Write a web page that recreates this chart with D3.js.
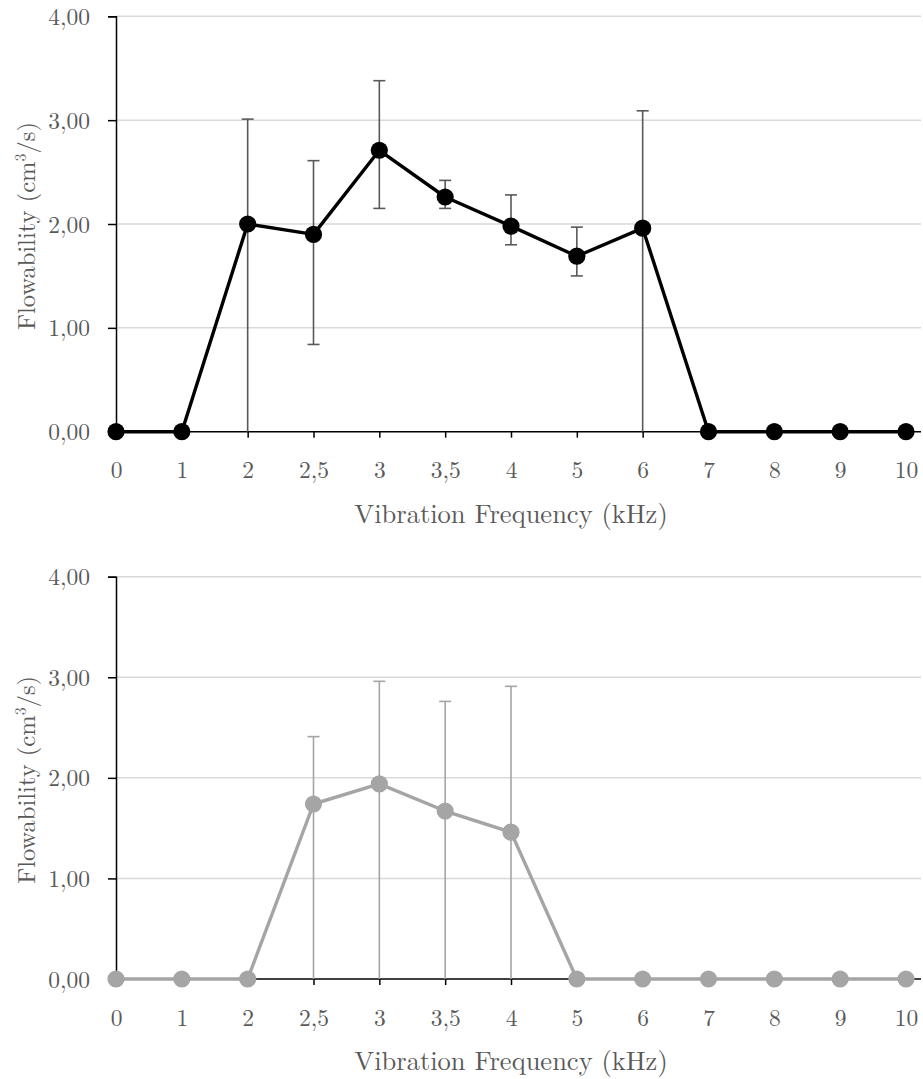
<!DOCTYPE html>
<html>
<head>
<meta charset="utf-8">
<script src="https://cdn.jsdelivr.net/npm/d3@7"></script>
<style>
  html, body { margin: 0; padding: 0; background: #fff; }
</style>
</head>
<body>
<svg id="chart" width="923" height="1079"></svg>
<script>
// Frequency categories (kHz) for each panel
const freqTop = ["0", "1", "2", "2,5", "3", "3,5", "4", "5", "6", "7", "8", "9", "10"];
const freqBottom = ["0", "1", "2", "2,5", "3", "3,5", "4", "5", "6", "7", "8", "9", "10"];

// Mean flowability (cm³/s) and error-bar ends
const flowTop = [0, 0, 2.00, 1.90, 2.71, 2.26, 1.98, 1.69, 1.96, 0, 0, 0, 0];
const errHighTop = [null, null, 3.01, 2.61, 3.38, 2.42, 2.28, 1.97, 3.09, null, null, null, null];
const errLowTop = [null, null, 0, 0.84, 2.15, 2.15, 1.80, 1.50, 0, null, null, null, null];

const flowBottom = [0, 0, 0, 1.74, 1.94, 1.67, 1.46, 0, 0, 0, 0, 0, 0];
const errHighBottom = [null, null, null, 2.41, 2.96, 2.76, 2.91, null, null, null, null, null, null];
const errLowBottom = [null, null, null, 0, 0, 0, 0, null, null, null, null, null, null];

const yTicks = [0, 1, 2, 3, 4];
const yTickFormat = d => d.toFixed(2).replace(".", ",");

const FONT = '"Latin Modern Roman", "CMU Serif", "Liberation Serif", serif';
const TEXT_GREY = "#595959";

const svg = d3.select("#chart");

function drawPanel(cfg) {
  const g = svg.append("g");
  const x = d3.scalePoint().domain(cfg.cats).range([116, 906]);
  const y = d3.scaleLinear().domain([0, 4]).range([cfg.y0, cfg.y4]);

  // horizontal gridlines
  g.append("g").selectAll("line").data(yTicks.filter(d => d > 0)).join("line")
    .attr("x1", 116).attr("x2", 921)
    .attr("y1", d => y(d)).attr("y2", d => y(d))
    .attr("stroke", "#d9d9d9").attr("stroke-width", 1.5);

  // y axis
  const yAxis = g.append("g").attr("transform", "translate(116,0)")
    .call(d3.axisLeft(y).tickValues(yTicks).tickFormat(yTickFormat).tickSize(8).tickPadding(18));
  yAxis.select(".domain").attr("stroke", "#000").attr("stroke-width", 1.5);
  yAxis.selectAll(".tick line").attr("stroke", "#000").attr("stroke-width", 1.5);
  yAxis.selectAll(".tick text").attr("fill", TEXT_GREY).attr("dy", "0.34em")
    .style("font-family", FONT).style("font-size", "23.5px");

  // x axis at zero
  const xAxis = g.append("g").attr("transform", `translate(0,${y(0)})`)
    .call(d3.axisBottom(x).tickSize(6));
  xAxis.select(".domain").attr("d", "M116,0H921").attr("stroke", "#000").attr("stroke-width", 1.5);
  xAxis.selectAll(".tick line").attr("stroke", "#000").attr("stroke-width", 1.5);
  xAxis.selectAll(".tick text").attr("fill", TEXT_GREY).attr("y", 46.5).attr("dy", null)
    .style("font-family", FONT).style("font-size", "23.5px");

  // error bars
  const errs = cfg.cats.map((c, i) => ({ c, hi: cfg.hi[i], lo: cfg.lo[i] })).filter(d => d.hi !== null);
  const eb = g.append("g").attr("stroke", cfg.errColor).attr("stroke-width", 1.6);
  eb.selectAll("line.v").data(errs).join("line").attr("class", "v")
    .attr("x1", d => x(d.c)).attr("x2", d => x(d.c))
    .attr("y1", d => y(d.hi)).attr("y2", d => y(d.lo));
  eb.selectAll("line.hcap").data(errs).join("line").attr("class", "hcap")
    .attr("x1", d => x(d.c) - 6).attr("x2", d => x(d.c) + 6)
    .attr("y1", d => y(d.hi)).attr("y2", d => y(d.hi));
  eb.selectAll("line.lcap").data(errs.filter(d => d.lo > 0)).join("line").attr("class", "lcap")
    .attr("x1", d => x(d.c) - 6).attr("x2", d => x(d.c) + 6)
    .attr("y1", d => y(d.lo)).attr("y2", d => y(d.lo));

  // series line and markers
  const pts = cfg.cats.map((c, i) => ({ c, v: cfg.vals[i] }));
  g.append("path").datum(pts)
    .attr("fill", "none").attr("stroke", cfg.color).attr("stroke-width", 3.4)
    .attr("stroke-linejoin", "round")
    .attr("d", d3.line().x(d => x(d.c)).y(d => y(d.v)));
  g.append("g").selectAll("circle").data(pts).join("circle")
    .attr("cx", d => x(d.c)).attr("cy", d => y(d.v)).attr("r", 8.6)
    .attr("fill", cfg.color);

  // axis titles
  g.append("text")
    .attr("x", 511).attr("y", y(0) + 91)
    .attr("text-anchor", "middle").attr("fill", TEXT_GREY)
    .style("font-family", FONT).style("font-size", "26.5px")
    .text("Vibration Frequency (kHz)");
  const yt = g.append("text")
    .attr("transform", `translate(35,${(cfg.y0 + cfg.y4) / 2 + 2}) rotate(-90)`)
    .attr("text-anchor", "middle").attr("fill", TEXT_GREY)
    .style("font-family", FONT).style("font-size", "24.5px");
  yt.append("tspan").text("Flowability (cm");
  yt.append("tspan").style("font-size", "16px").attr("dy", -9).text("3");
  yt.append("tspan").attr("dy", 9).text("/s)");
}

drawPanel({
  cats: freqTop, vals: flowTop, hi: errHighTop, lo: errLowTop,
  y0: 431.7, y4: 16.3, color: "#000000", errColor: "#595959"
});
drawPanel({
  cats: freqBottom, vals: flowBottom, hi: errHighBottom, lo: errLowBottom,
  y0: 979, y4: 576.7, color: "#a5a5a5", errColor: "#a5a5a5"
});
</script>
</body>
</html>
